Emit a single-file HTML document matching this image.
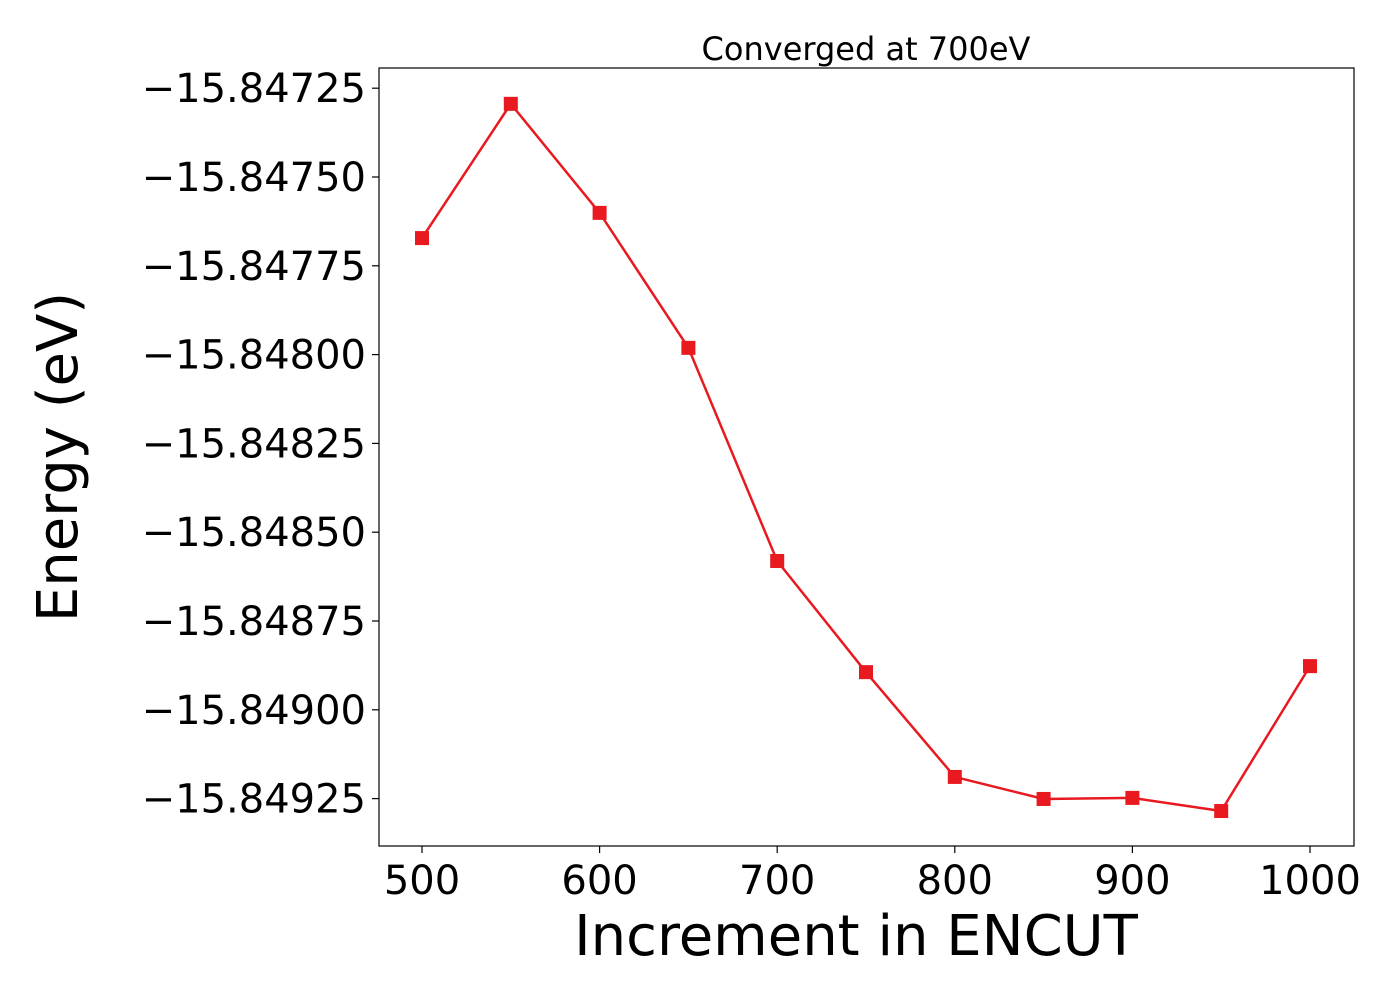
<!DOCTYPE html>
<html><head><meta charset="utf-8"><style>
body{margin:0;background:#fff;}
svg{display:block;font-family:"DejaVu Sans","Liberation Sans",sans-serif;}
</style></head><body>
<svg id="chart" width="1400" height="1000" xmlns="http://www.w3.org/2000/svg">
<rect x="379" y="68" width="975" height="778" fill="none" stroke="#000" stroke-width="1.2"/>
<g id="xticks"></g>
<g id="yticks"></g>
<g id="series"></g>
<text x="866" y="60" font-size="32" text-anchor="middle">Converged at 700eV</text>
<text x="856" y="955" font-size="56" text-anchor="middle">Increment in ENCUT</text>
<text transform="translate(77,457) rotate(-90)" font-size="56" text-anchor="middle">Energy (eV)</text>
</svg>
<script>
const encut = [500,550,600,650,700,750,800,850,900,950,1000];
const energy = [-15.847672,-15.847294,-15.847601,-15.847981,-15.848581,-15.848894,-15.849189,-15.849251,-15.849248,-15.849285,-15.848877];
const xTickValues = [500,600,700,800,900,1000];
const yTickValues = [-15.84725,-15.8475,-15.84775,-15.848,-15.84825,-15.8485,-15.84875,-15.849,-15.84925];
const NS="http://www.w3.org/2000/svg";
function xs(v){return 422+(v-500)*(888/500);}
function ys(v){return 177+(-15.8475-v)/0.00025*88.8;}
function mk(tag,attrs,parent){const e=document.createElementNS(NS,tag);for(const k in attrs)e.setAttribute(k,attrs[k]);parent.appendChild(e);return e;}
const xg=document.getElementById('xticks'),yg=document.getElementById('yticks'),sg=document.getElementById('series');
xTickValues.forEach(v=>{
  const l=mk('line',{x1:xs(v),x2:xs(v),y1:846,y2:853,stroke:'#000','stroke-width':1.2},xg);
  
  
  const t=mk('text',{x:xs(v),y:894,'font-size':40,'text-anchor':'middle'},xg);
  
  
  t.textContent=v;
});
yTickValues.forEach(v=>{
  const l=mk('line',{x1:372,x2:379,y1:ys(v),y2:ys(v),stroke:'#000','stroke-width':1.2},yg);
  
  
  const t=mk('text',{x:366,y:ys(v)+14,'font-size':40,'text-anchor':'end'},yg);
  
  
  t.textContent='\u2212'+Math.abs(v).toFixed(5);
});
const pts=encut.map((x,i)=>xs(x)+','+ys(energy[i])).join(' ');
const pl=mk('polyline',{points:pts,fill:'none',stroke:'#e8191f','stroke-width':2.5},sg);


encut.forEach((x,i)=>{
  const r=mk('rect',{x:xs(x)-7,y:ys(energy[i])-7,width:14,height:14,fill:'#e8191f'},sg);
  
  
});
</script>
</body></html>
